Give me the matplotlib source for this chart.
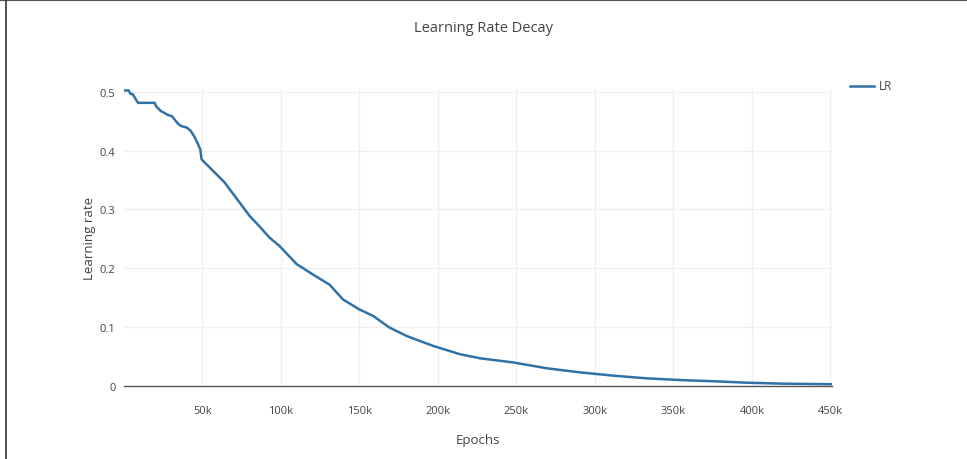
import matplotlib
matplotlib.use("Agg")
import matplotlib.pyplot as plt
from matplotlib.lines import Line2D

epochs = [0, 3000, 4200, 5500, 7700, 9000, 19500, 20500, 23500, 25600, 27500, 30700,
          33000, 35000, 37000, 40000, 42600, 44700, 46600, 48600, 49400, 50500,
          64000, 80000, 86000, 92700, 99000, 110000, 120000, 131000, 139500,
          150000, 158700, 169000, 180000, 197000, 214000, 227000, 248000,
          269500, 291000, 312000, 333000, 355000, 376000, 397000, 419000, 451000]
lr = [0.502, 0.502, 0.496, 0.496, 0.486, 0.481, 0.481, 0.475, 0.467, 0.464, 0.461, 0.458,
      0.450, 0.444, 0.441, 0.439, 0.433, 0.424, 0.414, 0.402, 0.385, 0.382,
      0.346, 0.289, 0.272, 0.252, 0.238, 0.207, 0.190, 0.172, 0.147,
      0.130, 0.119, 0.0995, 0.085, 0.068, 0.054, 0.047, 0.040,
      0.030, 0.023, 0.0175, 0.013, 0.010, 0.008, 0.0056, 0.004, 0.003]

xticks = [50000, 100000, 150000, 200000, 250000, 300000, 350000, 400000, 450000]
xticklabels = ["50k", "100k", "150k", "200k", "250k", "300k", "350k", "400k", "450k"]
yticks = [0, 0.1, 0.2, 0.3, 0.4, 0.5]
yticklabels = ["0", "0.1", "0.2", "0.3", "0.4", "0.5"]

plt.rcParams['font.family'] = ['Open Sans', 'DejaVu Sans']
txt = '#444444'
line_color = '#3172a6'

fig = plt.figure(figsize=(9.67, 4.6), dpi=100)
fig.patch.set_facecolor('white')
ax = fig.add_axes([124/967, 1 - 387/460, (832-124)/967, (387-90)/460])

ax.plot(epochs, lr, color=line_color, linewidth=1.8, solid_joinstyle='round')
ax.set_xlim(0, 451000)
ax.set_ylim(0, 0.5045)

ax.set_xticks(xticks)
ax.set_xticklabels(xticklabels)
ax.set_yticks(yticks)
ax.set_yticklabels(yticklabels)
ax.tick_params(axis='both', length=0, labelsize=8, colors=txt)
ax.tick_params(axis='x', pad=14)
ax.tick_params(axis='y', pad=6)
ax.grid(True, color='#f0f0f0', linewidth=1)
ax.set_axisbelow(True)
for s in ['top', 'right', 'left']:
    ax.spines[s].set_visible(False)
ax.spines['bottom'].set_color('#555555')
ax.spines['bottom'].set_linewidth(1)

ax.set_xlabel('Epochs', fontsize=9.5, color=txt, labelpad=12)
ax.set_ylabel('Learning rate', fontsize=9.5, color=txt, labelpad=2.5)
fig.text(483/967, 1 - 28/460, 'Learning Rate Decay', ha='center', va='center',
         fontsize=10.5, color=txt)

# legend
fig.add_artist(Line2D([850/967, 874/967], [1 - 87/460, 1 - 87/460],
                      color=line_color, linewidth=1.8, transform=fig.transFigure))
fig.text(879/967, 1 - 87/460, 'LR', ha='left', va='center', fontsize=8.5, color=txt)

# frame lines of the screenshot
fig.add_artist(Line2D([0, 1], [1 - 0.8/460, 1 - 0.8/460], color='#555555',
                      linewidth=1.5, transform=fig.transFigure))
fig.add_artist(Line2D([6/967, 6/967], [0, 1], color='#333333',
                      linewidth=1.2, transform=fig.transFigure))

fig.savefig('out.png', dpi=100, facecolor='white')
